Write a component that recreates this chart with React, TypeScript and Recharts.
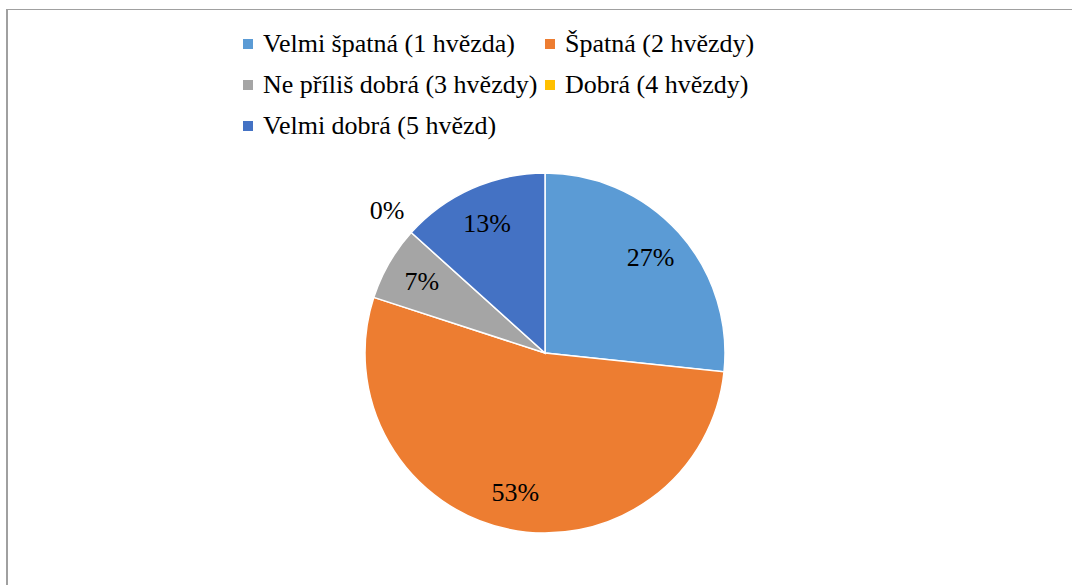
import React from "react";
import { Cell, Pie, PieChart } from "recharts";

const categories = [
  "Velmi špatná (1 hvězda)",
  "Špatná (2 hvězdy)",
  "Ne příliš dobrá (3 hvězdy)",
  "Dobrá (4 hvězdy)",
  "Velmi dobrá (5 hvězd)",
];
const counts = [4, 8, 1, 0, 2];
const colors = ["#5B9BD5", "#ED7D31", "#A5A5A5", "#FFC000", "#4472C4"];

const data = categories.map((name, i) => ({ name, value: counts[i] }));

const FONT = '"Times New Roman", Tinos, "Liberation Serif", "Nimbus Roman", "DejaVu Serif", serif';
const RAD = Math.PI / 180;

const renderLabel = (props: any) => {
  const { cx, cy, midAngle, outerRadius, percent } = props;
  const r = percent === 0 ? outerRadius * 1.18 : outerRadius * 0.79;
  const x = cx + r * Math.cos(-midAngle * RAD);
  const y = cy + r * Math.sin(-midAngle * RAD);
  return (
    <text x={x} y={y} textAnchor="middle" dominantBaseline="central" fontSize={26} fontFamily={FONT} fill="#000">
      {`${Math.round(percent * 100)}%`}
    </text>
  );
};

const LegendBox = () => (
  <div
    style={{
      position: "absolute",
      left: 243,
      top: 29,
      display: "grid",
      gridTemplateColumns: "302px auto",
      rowGap: 11,
      fontFamily: FONT,
      fontSize: 26,
      color: "#000",
    }}
  >
    {categories.map((c, i) => (
      <div key={c} style={{ display: "flex", alignItems: "center", height: 30, whiteSpace: "nowrap" }}>
        <span style={{ width: 10, height: 10, background: colors[i], marginRight: 10, display: "inline-block" }} />
        {c}
      </div>
    ))}
  </div>
);

export default function App() {
  return (
    <div style={{ position: "fixed", left: 0, top: 0, width: 1072, height: 585, overflow: "hidden", background: "#fff" }}>
      <div
        style={{
          position: "absolute",
          left: 6,
          top: 9,
          width: 1200,
          height: 700,
          borderTop: "1px solid #A0A0A0",
          borderLeft: "2px solid #A0A0A0",
          boxSizing: "border-box",
        }}
      />
      <div style={{ position: "absolute", left: 0, top: 0 }}>
        <PieChart width={1072} height={585} margin={{ top: 0, right: 0, bottom: 0, left: 0 }}>
          <Pie
            data={data}
            dataKey="value"
            nameKey="name"
            cx={545}
            cy={353}
            outerRadius={180}
            startAngle={90}
            endAngle={-270}
            stroke="#fff"
            strokeWidth={1.5}
            label={renderLabel}
            labelLine={false}
            isAnimationActive={false}
          >
            {data.map((d, i) => (
              <Cell key={d.name} fill={colors[i]} />
            ))}
          </Pie>
        </PieChart>
      </div>
      <LegendBox />
    </div>
  );
}
